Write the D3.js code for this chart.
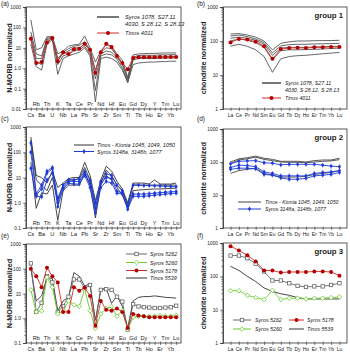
<!DOCTYPE html>
<html><head><meta charset="utf-8">
<script src="https://cdn.jsdelivr.net/npm/d3@7"></script>
<style>body{margin:0;background:#fff}svg{display:block;font-family:Arial,"Liberation Sans",sans-serif}</style>
</head><body><svg id="c" width="350" height="352"></svg>
<script>
const spiderEls=["Cs","Rb","Ba","Th","U","K","Nb","Ta","La","Ce","Pb","Pr","Sr","Nd","Zr","Hf","Sm","Eu","Ti","Gd","Tb","Dy","Ho","Y","Er","Tm","Yb","Lu"];
const reeEls=["La","Ce","Pr","Nd","Sm","Eu","Gd","Tb","Dy","Ho","Er","Tm","Yb","Lu"];

// (a) group 1 spider
const aSyros1=[230,8,10,35,35,5,7,12,14,15,38,10,2,7,14,12,5,2.5,0.35,4.5,5,5.2,5.3,5.3,5.5,5.6,5.6,5.6];
const aSyros2=[60,5,4,30,32,3,6,9,12,13,20,8,0.8,6,10,9,4,1.8,0.3,3.5,4.2,4.3,4.3,4.3,4.5,4.5,4.6,4.6];
const aSyros3=[40,3,3,25,30,2.5,5,7,10,10,15,7,0.3,5,7,6,3.5,1.5,0.25,3,3.4,3.5,3.5,3.5,3.6,3.6,3.7,3.7];
const aSyros4=[25,2,1.5,20,28,1.5,4,5,7,8,12,5,0.08,4,5,4.5,2.8,1.0,0.2,2.5,3.0,3.0,3.0,3.0,3.1,3.1,3.2,3.2];
const aSyros5=[15,1.2,0.8,15,25,0.5,3,4,5,6,10,4,0.022,3,3.5,3,2,0.8,0.2,1.5,1.8,1.9,2.0,2.0,2.1,2.1,2.2,2.2];
const aTinos4011=[28,1.8,2.0,18,30,2.2,6,5,8.5,9,16,8,0.6,6,16,11,4,1.8,0.9,3.2,3.4,3.4,3.4,3.4,3.5,3.5,3.5,3.5];
// (b) group 1 REE
const bSyros1=[160,165,150,130,100,55,85,95,100,100,102,103,103,105];
const bSyros2=[140,150,135,115,90,45,72,78,80,80,82,83,84,85];
const bSyros3=[120,130,120,105,80,38,62,65,65,65,67,68,69,70];
const bSyros4=[100,115,105,90,65,28,52,55,55,56,57,58,60,62];
const bSyros5=[70,80,70,55,35,12,30,35,37,38,40,42,44,46];
const bTinos4011=[90,115,110,95,70,30,58,62,63,62,65,65,67,67];
// (c) group 2 spider
const cTinos1=[400,12,10,6,18,4,6,9,10,10,40,12,1.2,8,28,18,7,3.5,1.0,6,6,6,5.5,8,5.5,5.5,5.5,6];
const cTinos2=[300,8,5,3,10,1.2,5,8,8,9,25,8,0.6,6,20,12,5,3,0.8,5,5,5,5,5,5,5,5,5];
const cTinos3=[40,0.6,2.5,2.2,5,0.2,3,5,5,5,15,5,0.25,5,12,8,4,2,0.6,3,3.2,3.3,3.4,3.5,3.5,3.6,3.7,3.8];
const cSyros1=[230,2.2,5,18,25,1.5,5,8,8,9,17,8,1.0,7,14,12,5,3,0.8,5,5,4.8,4.8,4.7,4.6,4.5,4.4,4.3];
const cSyros2=[100,2.0,3.5,15,22,1.0,4,7,7,7,15,6,0.6,6,10,9,2.8,2.5,0.7,2.2,2.2,2.2,2.3,2.4,2.5,2.6,2.7,2.8];
const cSyros3=[23,1.8,1.7,8,15,0.7,3.5,6,5.5,5.5,12,4,0.4,4,7,6,2.4,2.2,0.55,1.8,1.8,1.8,1.9,2.0,2.1,2.2,2.3,2.4];
// (d) group 2 REE
const dTinos1=[100,125,135,150,130,120,105,105,105,100,110,115,115,130];
const dTinos2=[90,115,125,140,120,110,100,98,98,95,100,105,108,118];
const dTinos3=[45,55,60,65,45,40,35,35,35,37,42,45,48,55];
const dSyros1=[88,105,108,110,95,92,82,85,85,85,85,80,75,72];
const dSyros2=[68,80,78,72,50,45,38,38,38,38,45,48,50,55];
const dSyros3=[60,65,65,62,42,40,33,30,30,32,38,40,42,48];
// (e) group 3 spider
const eSyros5262=[165,1.8,4.2,50,28,1.8,3.1,7.4,37,37,16,22,0.72,14,15,14,7.4,4.7,0.35,3.7,3.0,2.8,2.7,2.6,2.6,2.7,2.8,3.2];
const eSyros5260=[14,1.8,2,45,18,1.5,2,5,3.5,3,15,2,0.4,1.5,2.5,3,1.2,2,0.35,1.1,1.2,1.2,1.2,1.2,1.3,1.2,1.2,1.3];
const eSyros5178=[100,50,18,110,50,28,1.8,1.8,18,13,17,8,0.5,5,2.2,2.0,2.5,1.8,0.4,1.5,1.3,1.2,1.1,1.1,1.1,1.1,1.1,1.1];
const eTinos5539=[100,5,8,45,40,2,5,7,70,50,20,25,0.8,15,16,4,8,3,0.4,5,7,7.5,7.5,8,7.5,7,6.8,6.5];
// (f) group 3 REE
const fSyros5262=[420,420,350,240,140,75,75,62,52,48,50,50,55,62];
const fSyros5260=[37,37,27,23,20,38,20,22,22,21,22,22,23,24];
const fSyros5178=[800,600,430,280,150,150,130,135,135,135,140,140,135,105];
const fTinos5539=[200,150,100,70,45,35,30,27,23,21,21,21,21,21];

const ticksA=["1000","100","10","1.0","0.1","0.01"];
const ticksC=["1000","100","10","1.0","0.1"];
const ticksB=["1000","100","10","1"];

const svg=d3.select("#c");
const GRAY="#555", RED="#d42a2a", REDM="#b40000", BLUE="#1f3bd6", GREEN="#6acb2e", SQ="#666";

function panel(o){
  const g=svg.append("g");
  const x=d3.scalePoint().domain(o.els).range([o.x0,o.x1]).padding(0.9);
  const y=d3.scaleLog().domain(o.dom).range([o.y1,o.y0]);
  g.append("rect").attr("x",o.x0).attr("y",o.y0).attr("width",o.x1-o.x0).attr("height",o.y1-o.y0)
    .attr("fill","none").attr("stroke","#333").attr("stroke-width",0.8);
  const vals=o.ticks.map(Number);
  const ax=d3.axisLeft(y).tickValues(vals).tickFormat((d,i)=>o.ticks[i]).tickSize(3).tickPadding(2);
  const ag=g.append("g").attr("transform",`translate(${o.x0},0)`).call(ax);
  ag.select(".domain").attr("stroke","#333").attr("stroke-width",0.8);
  ag.selectAll("text").attr("font-size",4.8).attr("fill","#222");
  ag.selectAll("line").attr("stroke","#333").attr("stroke-width",0.6);
  const minors=[];
  const lo=Math.log10(o.dom[0]),hi=Math.log10(o.dom[1]);
  for(let e=lo;e<hi;e++) for(let m=2;m<10;m++) minors.push(m*Math.pow(10,e));
  g.selectAll(null).data(minors).enter().append("line")
    .attr("x1",o.x0-1.8).attr("x2",o.x0).attr("y1",d=>y(d)).attr("y2",d=>y(d))
    .attr("stroke","#333").attr("stroke-width",0.5);
  const bx=d3.axisBottom(x).tickSize(2).tickFormat("");
  const bg=g.append("g").attr("transform",`translate(0,${o.y1})`).call(bx);
  bg.select(".domain").remove();
  bg.selectAll("line").attr("stroke","#333").attr("stroke-width",0.6).attr("y1",-1.5);
  o.els.forEach((el,i)=>{
    const top = o.split && i%2===1;
    g.append("text").attr("x",x(el)).attr("y",top? o.y1-3.5 : o.y1+7.5)
      .attr("text-anchor","middle").attr("font-size",o.fs).attr("fill","#222").text(el);
  });
  g.append("text").attr("transform",`translate(${o.tx},${(o.y0+o.y1)/2}) rotate(-90)`)
    .attr("text-anchor","middle").attr("font-size",7.2).attr("font-weight","bold").attr("fill","#222").text(o.title);
  g.append("text").attr("x",o.lx).attr("y",o.ly).attr("font-size",6.5).attr("fill","#222").text(o.label);
  if(o.group) g.append("text").attr("x",o.x1-4).attr("y",o.y0+11).attr("text-anchor","end")
    .attr("font-size",7.8).attr("font-weight","bold").attr("fill","#222").text(o.group);
  const line=d3.line().x((d,i)=>x(o.els[i])).y(d=>y(d));
  o.series.forEach(s=>{
    g.append("path").datum(s.v).attr("d",line).attr("fill","none")
      .attr("stroke",s.c).attr("stroke-width",s.w||0.9).attr("stroke-linejoin","round");
    if(s.m) s.v.forEach((d,i)=>drawMark(g,s.m,x(o.els[i]),y(d)));
  });
  return g;
}
function drawMark(g,m,px,py){
  if(m==="dot") g.append("circle").attr("cx",px).attr("cy",py).attr("r",2.0).attr("fill",REDM);
  else if(m==="blue"){
    g.append("line").attr("x1",px).attr("x2",px).attr("y1",py-2.3).attr("y2",py+2.3).attr("stroke",BLUE).attr("stroke-width",0.8);
    g.append("circle").attr("cx",px).attr("cy",py).attr("r",1.4).attr("fill",BLUE);
  }
  else if(m==="sq") g.append("rect").attr("x",px-1.7).attr("y",py-1.7).attr("width",3.4).attr("height",3.4)
    .attr("fill","#fff").attr("stroke",SQ).attr("stroke-width",0.8);
  else if(m==="dia") g.append("path").attr("d",`M${px},${py-2.3}L${px+2.3},${py}L${px},${py+2.3}L${px-2.3},${py}Z`)
    .attr("fill","#fff").attr("stroke",GREEN).attr("stroke-width",0.8);
}
function legend(items){
  items.forEach(it=>{
    svg.append("line").attr("x1",it.x1).attr("x2",it.x2).attr("y1",it.y).attr("y2",it.y)
      .attr("stroke",it.c).attr("stroke-width",it.w||1);
    if(it.m) drawMark(svg,it.m,(it.x1+it.x2)/2,it.y);
    it.t.forEach((t,k)=>svg.append("text").attr("x",it.tx).attr("y",it.y+2+k*6.5)
      .attr("font-size",it.fs||5.8).attr("font-style","italic").attr("fill","#222").text(t));
  });
}

const spider={els:spiderEls,split:true,x0:26,x1:181,title:"N-MORB normalized",tx:12,lx:1,fs:5.6};
const ree={els:reeEls,split:false,x0:223,x1:347,title:"chondrite normalized",tx:206,lx:197,fs:5};

panel({...spider,y0:7,y1:109,dom:[0.01,1000],ticks:ticksA,label:"(a)",ly:6,
  series:[aSyros1,aSyros2,aSyros3,aSyros4,aSyros5].map(v=>({v,c:GRAY})).concat([{v:aTinos4011,c:RED,m:"dot"}])});
panel({...ree,y0:7,y1:109,dom:[1,1000],ticks:ticksB,label:"(b)",ly:6,group:"group 1",
  series:[bSyros1,bSyros2,bSyros3,bSyros4,bSyros5].map(v=>({v,c:GRAY})).concat([{v:bTinos4011,c:RED,m:"dot"}])});
panel({...spider,y0:127,y1:228,dom:[0.1,1000],ticks:ticksC,label:"(c)",ly:121,
  series:[cTinos1,cTinos2,cTinos3].map(v=>({v,c:"#333"})).concat([cSyros1,cSyros2,cSyros3].map(v=>({v,c:BLUE,m:"blue"})))});
panel({...ree,y0:129,y1:228,dom:[1,1000],ticks:ticksB,label:"(d)",ly:121,group:"group 2",
  series:[dTinos1,dTinos2,dTinos3].map(v=>({v,c:"#444"})).concat([dSyros1,dSyros2,dSyros3].map(v=>({v,c:BLUE,m:"blue"})))});
panel({...spider,y0:244,y1:343,dom:[0.1,1000],ticks:ticksC,label:"(e)",ly:238,
  series:[{v:eTinos5539,c:"#333"},{v:eSyros5262,c:SQ,m:"sq"},{v:eSyros5260,c:GREEN,m:"dia"},{v:eSyros5178,c:RED,m:"dot"}]});
panel({...ree,y0:243,y1:343,dom:[1,1000],ticks:ticksB,label:"(f)",ly:238,group:"group 3",
  series:[{v:fTinos5539,c:"#333"},{v:fSyros5262,c:SQ,m:"sq"},{v:fSyros5260,c:GREEN,m:"dia"},{v:fSyros5178,c:RED,m:"dot"}]});

legend([
  {x1:97,x2:119,y:17,c:"#777",w:2,tx:125,t:["Syros 1078, S27.11","4030, S 28.12, S 28.13"]},
  {x1:97,x2:119,y:33,c:RED,m:"dot",tx:125,t:["Tinos 4011"]},
  {x1:262,x2:281,y:83,c:"#777",w:2,tx:285,t:["Syros 1078, S27.11","4030, S 28.12, S 28.13"],fs:5.3},
  {x1:262,x2:281,y:98,c:RED,m:"dot",tx:285,t:["Tinos 4011"],fs:5.3},
  {x1:74,x2:94,y:145,c:"#333",tx:97,t:["Tinos - Kionia 1045, 1049, 1050"],fs:5.5},
  {x1:74,x2:94,y:151.5,c:BLUE,m:"blue",tx:97,t:["Syros 3148a, 3148b, 1077"],fs:5.5},
  {x1:238,x2:261,y:202,c:"#444",tx:265,t:["Tinos - Kionia 1045, 1049, 1050"],fs:5.2},
  {x1:238,x2:261,y:209,c:BLUE,m:"blue",tx:265,t:["Syros 3148a, 3148b, 1077"],fs:5.2},
  {x1:126,x2:147,y:254,c:SQ,m:"sq",tx:150,t:["Syros 5262"],fs:5.4},
  {x1:126,x2:147,y:262.5,c:GREEN,m:"dia",tx:150,t:["Syros 5260"],fs:5.4},
  {x1:126,x2:147,y:270.5,c:RED,m:"dot",tx:150,t:["Syros 5178"],fs:5.4},
  {x1:126,x2:147,y:278,c:"#333",tx:150,t:["Tinos 5539"],fs:5.4},
  {x1:233,x2:251,y:320,c:SQ,m:"sq",tx:255,t:["Syros 5262"],fs:5.3},
  {x1:233,x2:251,y:329,c:GREEN,m:"dia",tx:255,t:["Syros 5260"],fs:5.3},
  {x1:289,x2:304,y:320,c:RED,m:"dot",tx:307,t:["Syros 5178"],fs:5.3},
  {x1:289,x2:304,y:329,c:"#333",tx:307,t:["Tinos 5539"],fs:5.3}
]);
</script></body></html>
